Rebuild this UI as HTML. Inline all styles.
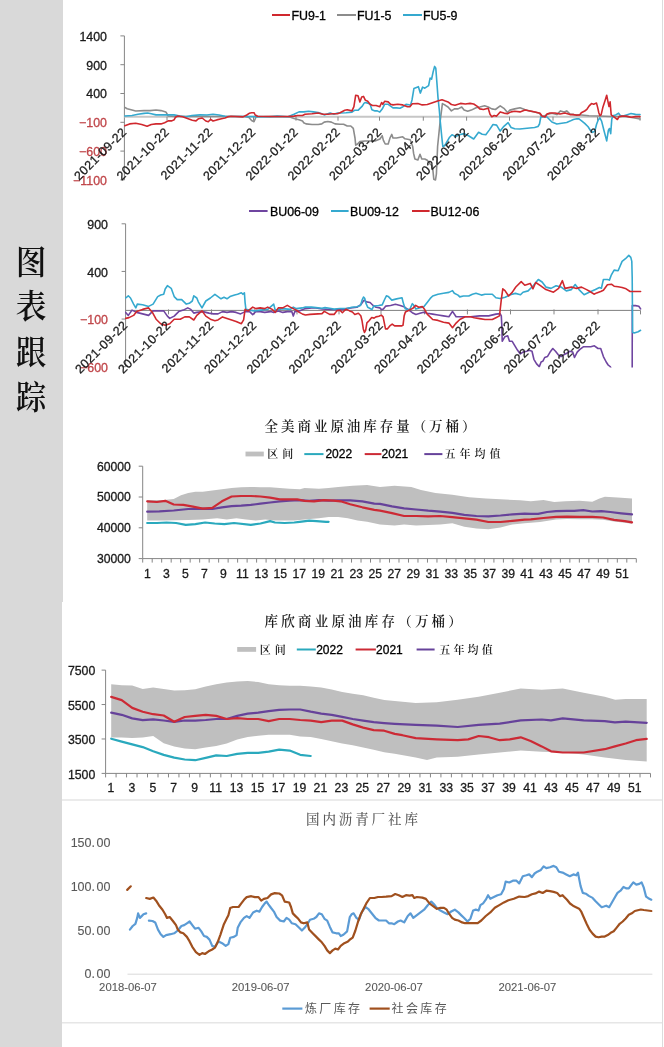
<!DOCTYPE html>
<html><head><meta charset="utf-8"><title>图表跟踪</title>
<style>html,body{margin:0;padding:0;background:#fff;}body{width:664px;height:1047px;overflow:hidden;}svg{display:block;}</style>
</head><body>
<svg width="664" height="1047" viewBox="0 0 664 1047">
<style>.lat{font-family:"Liberation Sans",Arial,sans-serif}.cjk{font-family:"Liberation Serif","Noto Serif CJK SC",serif}.cjks{font-family:"Liberation Sans","Noto Sans CJK SC",sans-serif}</style>
<rect x="0" y="0" width="664" height="1047" fill="#ffffff"/>
<rect x="0" y="0" width="63" height="602" fill="#d9d9d9"/>
<rect x="0" y="602" width="62" height="445" fill="#d9d9d9"/>
<line x1="662.5" y1="0" x2="662.5" y2="1047" stroke="#dcdcdc" stroke-width="1"/>
<line x1="62" y1="800" x2="662" y2="800" stroke="#e4e4e4" stroke-width="1.5"/>
<line x1="62" y1="1022.8" x2="662" y2="1022.8" stroke="#e6e6e6" stroke-width="1.6"/>
<text transform="translate(31 273.8) scale(1.02 1.1)" font-size="30" text-anchor="middle" fill="#111" class="cjk" font-weight="600">图</text>
<text transform="translate(31 317.9) scale(1.02 1.1)" font-size="30" text-anchor="middle" fill="#111" class="cjk" font-weight="600">表</text>
<text transform="translate(31 364) scale(1.02 1.1)" font-size="30" text-anchor="middle" fill="#111" class="cjk" font-weight="600">跟</text>
<text transform="translate(31 408.5) scale(1.02 1.1)" font-size="30" text-anchor="middle" fill="#111" class="cjk" font-weight="600">踪</text>
<line x1="124.4" y1="35.9" x2="124.4" y2="179.9" stroke="#868686" stroke-width="1"/>
<line x1="120.4" y1="35.9" x2="124.4" y2="35.9" stroke="#868686" stroke-width="1"/>
<text x="107" y="40.699999999999996" font-size="12.4" text-anchor="end" fill="#1a1a1a" stroke="#1a1a1a" stroke-width="0.3" class="lat" >1400</text>
<line x1="120.4" y1="64.7" x2="124.4" y2="64.7" stroke="#868686" stroke-width="1"/>
<text x="107" y="69.5" font-size="12.4" text-anchor="end" fill="#1a1a1a" stroke="#1a1a1a" stroke-width="0.3" class="lat" >900</text>
<line x1="120.4" y1="93.5" x2="124.4" y2="93.5" stroke="#868686" stroke-width="1"/>
<text x="107" y="98.3" font-size="12.4" text-anchor="end" fill="#1a1a1a" stroke="#1a1a1a" stroke-width="0.3" class="lat" >400</text>
<line x1="120.4" y1="122.30000000000001" x2="124.4" y2="122.30000000000001" stroke="#868686" stroke-width="1"/>
<text x="107" y="127.10000000000001" font-size="12.4" text-anchor="end" fill="#c0464a" stroke="#c0464a" stroke-width="0.3" class="lat" >−100</text>
<line x1="120.4" y1="151.1" x2="124.4" y2="151.1" stroke="#868686" stroke-width="1"/>
<text x="107" y="155.9" font-size="12.4" text-anchor="end" fill="#c0464a" stroke="#c0464a" stroke-width="0.3" class="lat" >−600</text>
<line x1="120.4" y1="179.9" x2="124.4" y2="179.9" stroke="#868686" stroke-width="1"/>
<text x="107" y="184.70000000000002" font-size="12.4" text-anchor="end" fill="#c0464a" stroke="#c0464a" stroke-width="0.3" class="lat" >−1100</text>
<line x1="124.4" y1="116.7" x2="640" y2="116.7" stroke="#c6c6c6" stroke-width="2"/>
<line x1="167" y1="116.7" x2="167" y2="120.7" stroke="#868686" stroke-width="1"/>
<line x1="210.5" y1="116.7" x2="210.5" y2="120.7" stroke="#868686" stroke-width="1"/>
<line x1="253.5" y1="116.7" x2="253.5" y2="120.7" stroke="#868686" stroke-width="1"/>
<line x1="296" y1="116.7" x2="296" y2="120.7" stroke="#868686" stroke-width="1"/>
<line x1="338" y1="116.7" x2="338" y2="120.7" stroke="#868686" stroke-width="1"/>
<line x1="379.5" y1="116.7" x2="379.5" y2="120.7" stroke="#868686" stroke-width="1"/>
<line x1="423.3" y1="116.7" x2="423.3" y2="120.7" stroke="#868686" stroke-width="1"/>
<line x1="466.6" y1="116.7" x2="466.6" y2="120.7" stroke="#868686" stroke-width="1"/>
<line x1="509.5" y1="116.7" x2="509.5" y2="120.7" stroke="#868686" stroke-width="1"/>
<line x1="553" y1="116.7" x2="553" y2="120.7" stroke="#868686" stroke-width="1"/>
<line x1="597.5" y1="116.7" x2="597.5" y2="120.7" stroke="#868686" stroke-width="1"/>
<line x1="640" y1="116.7" x2="640" y2="120.7" stroke="#868686" stroke-width="1"/>
<line x1="272" y1="15" x2="290" y2="15" stroke="#d0282e" stroke-width="2"/>
<text x="291.5" y="20.1" font-size="12.4" text-anchor="start" fill="#000" stroke="#000" stroke-width="0.3" class="lat" >FU9-1</text>
<line x1="337" y1="15" x2="356" y2="15" stroke="#8c8c8c" stroke-width="2"/>
<text x="357" y="20.1" font-size="12.4" text-anchor="start" fill="#000" stroke="#000" stroke-width="0.3" class="lat" >FU1-5</text>
<line x1="403" y1="15" x2="422" y2="15" stroke="#35a9cf" stroke-width="2"/>
<text x="423" y="20.1" font-size="12.4" text-anchor="start" fill="#000" stroke="#000" stroke-width="0.3" class="lat" >FU5-9</text>
<polyline points="124.8,107.4 127.2,108.8 132.0,110.0 135.7,111.0 144.0,110.6 150.0,110.6 156.0,110.0 161.0,110.6 165.8,111.9 167.0,113.7 168.0,116.0 175.0,116.5 200.0,116.5 245.0,116.5 249.0,117.5 251.6,120.5 254.0,121.7 256.0,117.0 270.0,116.5 288.0,116.8 290.5,117.3 294.0,118.5 299.0,119.7 302.5,120.9 303.7,122.7 306.0,123.9 312.0,124.5 318.2,124.5 321.8,123.9 324.2,122.1 327.8,121.5 331.4,122.1 335.0,123.9 340.0,124.2 343.6,124.2 347.2,126.0 350.8,126.0 353.3,128.4 355.0,138.0 355.7,145.2 357.5,144.0 359.9,141.6 365.0,141.0 370.0,141.0 375.0,141.0 380.0,139.0 382.2,135.6 383.4,140.4 385.2,144.0 388.2,144.0 390.0,138.0 391.8,134.4 393.0,138.0 396.6,138.0 402.7,136.8 405.0,138.8 410.2,139.7 412.7,146.5 413.6,153.4 414.9,159.0 417.9,159.9 420.0,154.3 421.8,159.0 424.8,159.0 427.3,160.3 429.9,163.7 432.5,166.3 433.8,179.2 435.5,180.0 436.4,174.0 437.6,146.5 440.2,120.8 442.4,103.6 445.4,105.3 448.0,107.0 451.4,110.9 454.8,108.7 458.1,108.9 461.7,107.0 464.1,110.1 467.7,111.3 471.3,110.1 476.1,107.7 479.8,107.0 484.6,105.8 488.2,107.0 491.8,108.9 495.4,109.5 500.2,105.8 503.9,108.3 507.5,112.5 509.9,110.1 514.7,108.9 520.0,107.7 524.7,109.6 529.6,110.9 534.6,112.0 539.5,113.3 542.0,117.0 547.0,114.6 551.9,113.3 556.8,114.6 560.5,110.9 564.2,112.0 566.7,110.9 570.0,114.0 574.0,114.6 581.5,115.0 589.0,115.8 598.8,116.0 611.0,116.5 625.0,116.5 633.3,117.8 640.0,119.0" fill="none" stroke="#8c8c8c" stroke-width="1.6" stroke-linejoin="round" stroke-linecap="round" />
<polyline points="124.8,116.0 132.0,115.5 138.0,114.3 144.0,113.4 147.7,113.0 151.3,113.7 156.0,114.9 162.0,114.9 168.0,114.9 174.0,114.9 180.0,116.0 186.0,116.7 192.0,115.5 200.0,114.9 207.0,115.0 213.0,114.2 219.0,115.0 225.0,116.3 240.0,116.5 270.0,116.7 277.2,116.1 288.0,116.7 294.0,114.3 299.0,111.9 303.7,111.9 308.6,111.3 313.4,111.9 318.2,112.5 321.8,113.7 324.2,114.9 327.8,113.7 330.2,113.0 333.9,114.3 337.5,113.0 340.0,113.0 346.0,112.7 352.0,112.1 354.5,110.3 358.0,110.3 360.5,107.9 362.3,106.1 364.1,103.1 365.3,102.5 367.7,103.1 370.1,104.3 371.9,109.7 375.0,110.9 377.3,110.9 379.8,112.1 382.2,109.1 384.6,104.3 388.2,104.3 390.6,106.1 393.0,107.9 396.6,107.9 400.0,108.2 403.0,106.7 406.0,104.4 409.0,104.8 410.5,105.2 412.0,100.0 413.9,88.6 418.4,86.7 420.3,93.1 422.6,87.1 424.8,88.2 428.6,85.6 430.1,78.1 431.6,79.2 433.1,72.0 434.6,66.4 435.8,68.3 436.9,82.6 438.0,97.6 439.2,109.0 440.2,120.8 441.9,138.0 442.8,146.5 444.5,145.7 446.0,143.5 449.6,137.2 452.0,134.8 455.7,136.6 459.3,134.8 464.1,133.6 468.9,136.0 473.7,139.0 478.6,132.3 482.2,134.2 485.8,134.8 489.4,129.9 493.0,124.5 496.6,125.1 500.2,131.1 503.9,126.3 508.1,122.7 511.1,127.5 514.7,128.7 519.8,129.0 524.7,128.5 529.6,128.0 534.6,127.5 538.0,126.5 539.5,124.0 540.8,117.0 543.0,116.5 547.0,117.0 551.9,122.0 556.8,124.0 561.7,123.2 566.7,122.5 570.0,121.1 573.4,119.5 576.8,118.7 579.0,118.9 581.3,120.6 584.7,123.4 588.1,126.8 590.3,130.2 592.6,132.4 594.8,131.3 596.5,124.5 598.2,120.0 599.9,117.8 601.6,121.1 603.9,130.2 606.7,140.9 608.4,130.2 609.5,128.5 610.7,133.6 611.8,118.9 613.5,115.5 615.7,114.9 618.6,113.2 620.3,115.5 623.1,116.1 626.5,114.9 631.0,113.5 635.5,114.4 640.0,114.6" fill="none" stroke="#35a9cf" stroke-width="1.6" stroke-linejoin="round" stroke-linecap="round" />
<polyline points="124.8,125.7 129.6,123.9 135.7,123.3 141.7,124.5 147.1,126.3 151.3,124.5 156.0,123.9 161.0,123.9 164.6,122.7 168.2,120.9 171.8,120.9 174.2,119.7 175.4,117.3 177.8,116.0 182.7,116.7 187.5,118.5 192.3,120.3 196.0,120.9 198.6,118.7 202.2,118.0 205.8,121.0 208.3,121.7 210.7,119.3 213.0,121.0 216.7,119.9 221.5,118.7 225.0,118.0 227.5,116.9 231.0,116.3 243.0,116.9 246.8,115.0 249.2,113.3 251.6,112.7 254.0,112.7 255.2,115.0 257.6,116.3 270.0,116.5 288.0,116.5 294.0,116.1 297.7,115.5 302.5,115.5 305.0,114.3 312.0,113.7 318.2,113.0 323.0,114.3 327.8,114.3 332.7,113.7 337.5,113.7 340.0,112.7 344.8,110.3 347.2,109.7 352.0,110.9 353.9,106.7 355.7,95.2 358.0,95.8 359.9,101.9 361.7,97.0 363.5,96.4 365.3,100.1 367.7,101.3 370.1,104.3 372.5,105.5 376.1,105.5 379.8,106.7 381.6,102.5 382.8,104.3 384.6,101.3 388.2,101.9 390.6,104.3 393.0,104.9 397.8,104.3 402.7,104.9 407.5,106.7 409.9,106.7 412.3,103.7 417.9,103.6 422.2,104.9 427.3,104.5 432.5,102.7 437.6,101.0 442.0,99.7 445.4,101.0 448.0,101.9 451.4,104.5 455.0,105.3 460.5,103.4 465.3,104.0 470.1,103.4 473.7,104.0 477.3,106.4 479.8,108.9 483.4,109.5 488.2,108.3 490.0,114.3 491.8,116.7 494.2,115.5 496.6,116.1 500.2,111.9 503.9,113.1 507.5,113.7 511.1,111.9 514.7,111.3 520.0,111.9 525.0,110.0 530.0,111.0 535.0,112.0 540.0,113.3 542.0,116.0 545.0,117.0 547.0,114.0 550.0,113.0 555.0,113.0 560.0,114.0 565.0,113.0 570.0,114.6 573.4,114.6 576.8,115.3 579.6,114.9 581.3,112.7 584.7,111.0 586.9,109.3 589.2,105.9 591.5,103.6 593.7,104.2 596.5,103.1 597.7,107.6 598.8,112.7 599.9,115.5 601.1,114.9 602.8,107.6 605.0,100.8 606.7,95.2 607.8,100.8 609.0,106.5 610.1,101.9 611.2,114.9 612.9,116.1 615.2,117.8 617.4,119.5 619.1,116.6 622.0,116.1 626.5,116.1 631.0,117.2 635.5,116.6 640.0,116.6" fill="none" stroke="#d0282e" stroke-width="1.6" stroke-linejoin="round" stroke-linecap="round" />
<text x="127.5" y="132.7" font-size="12.4" text-anchor="end" fill="#1a1a1a" stroke="#1a1a1a" stroke-width="0.3" class="lat" letter-spacing="0.5" transform="rotate(-45 127.5 132.7)">2021-09-22</text>
<text x="170" y="132.7" font-size="12.4" text-anchor="end" fill="#1a1a1a" stroke="#1a1a1a" stroke-width="0.3" class="lat" letter-spacing="0.5" transform="rotate(-45 170 132.7)">2021-10-22</text>
<text x="213.5" y="132.7" font-size="12.4" text-anchor="end" fill="#1a1a1a" stroke="#1a1a1a" stroke-width="0.3" class="lat" letter-spacing="0.5" transform="rotate(-45 213.5 132.7)">2021-11-22</text>
<text x="256.5" y="132.7" font-size="12.4" text-anchor="end" fill="#1a1a1a" stroke="#1a1a1a" stroke-width="0.3" class="lat" letter-spacing="0.5" transform="rotate(-45 256.5 132.7)">2021-12-22</text>
<text x="299" y="132.7" font-size="12.4" text-anchor="end" fill="#1a1a1a" stroke="#1a1a1a" stroke-width="0.3" class="lat" letter-spacing="0.5" transform="rotate(-45 299 132.7)">2022-01-22</text>
<text x="341" y="132.7" font-size="12.4" text-anchor="end" fill="#1a1a1a" stroke="#1a1a1a" stroke-width="0.3" class="lat" letter-spacing="0.5" transform="rotate(-45 341 132.7)">2022-02-22</text>
<text x="382.5" y="132.7" font-size="12.4" text-anchor="end" fill="#1a1a1a" stroke="#1a1a1a" stroke-width="0.3" class="lat" letter-spacing="0.5" transform="rotate(-45 382.5 132.7)">2022-03-22</text>
<text x="426.3" y="132.7" font-size="12.4" text-anchor="end" fill="#1a1a1a" stroke="#1a1a1a" stroke-width="0.3" class="lat" letter-spacing="0.5" transform="rotate(-45 426.3 132.7)">2022-04-22</text>
<text x="469.6" y="132.7" font-size="12.4" text-anchor="end" fill="#1a1a1a" stroke="#1a1a1a" stroke-width="0.3" class="lat" letter-spacing="0.5" transform="rotate(-45 469.6 132.7)">2022-05-22</text>
<text x="512.5" y="132.7" font-size="12.4" text-anchor="end" fill="#1a1a1a" stroke="#1a1a1a" stroke-width="0.3" class="lat" letter-spacing="0.5" transform="rotate(-45 512.5 132.7)">2022-06-22</text>
<text x="556" y="132.7" font-size="12.4" text-anchor="end" fill="#1a1a1a" stroke="#1a1a1a" stroke-width="0.3" class="lat" letter-spacing="0.5" transform="rotate(-45 556 132.7)">2022-07-22</text>
<text x="600.5" y="132.7" font-size="12.4" text-anchor="end" fill="#1a1a1a" stroke="#1a1a1a" stroke-width="0.3" class="lat" letter-spacing="0.5" transform="rotate(-45 600.5 132.7)">2022-08-22</text>
<line x1="125.6" y1="223.8" x2="125.6" y2="366.69000000000005" stroke="#868686" stroke-width="1"/>
<line x1="121.6" y1="223.8" x2="125.6" y2="223.8" stroke="#868686" stroke-width="1"/>
<text x="108" y="228.9" font-size="12.4" text-anchor="end" fill="#1a1a1a" stroke="#1a1a1a" stroke-width="0.3" class="lat" >900</text>
<line x1="121.6" y1="271.43" x2="125.6" y2="271.43" stroke="#868686" stroke-width="1"/>
<text x="108" y="276.53000000000003" font-size="12.4" text-anchor="end" fill="#1a1a1a" stroke="#1a1a1a" stroke-width="0.3" class="lat" >400</text>
<line x1="121.6" y1="319.06" x2="125.6" y2="319.06" stroke="#868686" stroke-width="1"/>
<text x="108" y="324.16" font-size="12.4" text-anchor="end" fill="#c0464a" stroke="#c0464a" stroke-width="0.3" class="lat" >−100</text>
<line x1="121.6" y1="366.69000000000005" x2="125.6" y2="366.69000000000005" stroke="#868686" stroke-width="1"/>
<text x="108" y="371.7900000000001" font-size="12.4" text-anchor="end" fill="#c0464a" stroke="#c0464a" stroke-width="0.3" class="lat" >−600</text>
<line x1="125.6" y1="310.4" x2="640.5" y2="310.4" stroke="#7f7f7f" stroke-width="1"/>
<line x1="168.5" y1="309.4" x2="168.5" y2="314.4" stroke="#868686" stroke-width="1"/>
<line x1="211.5" y1="309.4" x2="211.5" y2="314.4" stroke="#868686" stroke-width="1"/>
<line x1="254.5" y1="309.4" x2="254.5" y2="314.4" stroke="#868686" stroke-width="1"/>
<line x1="297" y1="309.4" x2="297" y2="314.4" stroke="#868686" stroke-width="1"/>
<line x1="339" y1="309.4" x2="339" y2="314.4" stroke="#868686" stroke-width="1"/>
<line x1="381" y1="309.4" x2="381" y2="314.4" stroke="#868686" stroke-width="1"/>
<line x1="424.5" y1="309.4" x2="424.5" y2="314.4" stroke="#868686" stroke-width="1"/>
<line x1="467.4" y1="309.4" x2="467.4" y2="314.4" stroke="#868686" stroke-width="1"/>
<line x1="510.5" y1="309.4" x2="510.5" y2="314.4" stroke="#868686" stroke-width="1"/>
<line x1="554" y1="309.4" x2="554" y2="314.4" stroke="#868686" stroke-width="1"/>
<line x1="598" y1="309.4" x2="598" y2="314.4" stroke="#868686" stroke-width="1"/>
<line x1="640.5" y1="310.4" x2="640.5" y2="314.4" stroke="#868686" stroke-width="1"/>
<line x1="249" y1="211" x2="267.6" y2="211" stroke="#6f45a0" stroke-width="2"/>
<text x="270" y="216.2" font-size="12.4" text-anchor="start" fill="#000" stroke="#000" stroke-width="0.3" class="lat" >BU06-09</text>
<line x1="331" y1="211" x2="348.6" y2="211" stroke="#35a9cf" stroke-width="2"/>
<text x="350" y="216.2" font-size="12.4" text-anchor="start" fill="#000" stroke="#000" stroke-width="0.3" class="lat" >BU09-12</text>
<line x1="412" y1="211" x2="429.6" y2="211" stroke="#d0282e" stroke-width="2"/>
<text x="430.5" y="216.2" font-size="12.4" text-anchor="start" fill="#000" stroke="#000" stroke-width="0.3" class="lat" >BU12-06</text>
<clipPath id="cp2"><rect x="125" y="220" width="520" height="147.5"/></clipPath>
<g clip-path="url(#cp2)">
<polyline points="125.7,312.4 128.3,315.4 132.0,310.1 136.6,312.4 142.6,313.9 148.6,315.4 153.1,310.9 159.2,310.9 163.7,310.9 167.4,316.1 169.7,318.4 174.2,316.1 178.7,311.6 183.3,310.1 187.8,307.9 190.8,309.4 193.8,313.1 196.8,312.4 202.8,311.6 208.9,313.1 213.4,313.9 218.0,313.9 222.5,311.6 227.0,312.4 231.6,311.6 236.1,312.4 240.6,313.9 245.1,311.6 249.6,311.6 252.7,314.6 255.7,311.6 260.2,311.6 264.7,312.4 270.7,311.6 273.7,312.4 278.3,310.9 282.8,312.4 287.3,311.6 291.8,311.6 293.3,316.1 294.8,311.6 299.3,310.9 305.4,308.6 311.4,307.9 316.0,308.0 322.0,309.0 330.0,309.5 340.0,309.7 344.8,309.1 350.8,307.9 356.9,307.3 361.1,304.3 364.1,300.1 366.5,301.9 370.1,302.5 373.1,305.5 376.1,307.3 379.8,307.9 381.6,309.7 383.4,309.1 385.8,306.1 390.6,305.5 395.4,304.3 400.2,305.5 403.9,306.7 407.5,309.1 412.3,312.7 415.9,314.5 420.0,313.3 423.6,312.3 427.2,313.2 432.7,314.1 438.0,315.0 443.5,315.9 448.9,316.8 452.5,311.4 456.1,316.8 463.4,316.8 470.6,316.8 479.6,315.9 488.7,315.9 495.9,314.1 500.1,313.6 501.3,315.9 501.9,326.8 502.2,341.3 504.9,336.7 507.7,335.8 509.5,341.3 512.2,341.3 514.9,345.8 517.6,350.3 520.3,353.9 523.0,352.1 526.6,351.2 529.3,350.3 532.0,351.2 533.9,359.3 536.6,363.9 539.3,366.6 541.1,362.0 542.9,361.1 544.7,357.5 547.4,356.6 550.1,352.1 552.8,348.5 555.5,351.2 558.3,354.8 561.0,356.6 563.7,354.8 567.3,353.0 570.0,351.2 572.7,352.1 574.5,357.5 577.2,352.1 579.9,349.4 583.6,346.7 587.2,346.7 590.8,346.7 594.4,345.8 598.0,348.5 600.7,348.5 603.4,356.6 606.2,362.0 608.0,364.8 610.1,366.5 612.0,370.0 620.0,380.0 630.0,380.0 632.2,370.0 632.3,305.6 635.5,305.6 638.8,306.2 640.6,308.9" fill="none" stroke="#6f45a0" stroke-width="1.6" stroke-linejoin="round" stroke-linecap="round" />
<polyline points="125.7,298.0 128.3,295.8 130.5,298.0 133.6,304.1 135.8,307.9 137.3,304.1 142.6,304.8 148.6,306.4 153.1,304.1 157.7,296.6 160.7,295.0 163.7,294.3 165.2,289.0 167.4,285.7 171.2,288.3 174.2,296.6 177.2,299.6 181.7,299.6 186.3,304.1 189.3,303.3 192.3,301.0 193.8,295.8 196.8,298.0 198.3,301.8 202.0,307.9 205.8,301.0 210.4,298.0 214.9,294.3 218.0,296.6 221.0,298.8 224.0,297.3 227.0,298.8 230.0,296.6 234.6,295.0 237.6,294.3 241.4,292.8 242.9,294.3 244.4,292.8 245.1,302.6 245.9,309.4 249.6,310.1 254.2,310.9 260.2,310.1 267.7,309.4 273.7,304.1 275.2,310.1 282.8,308.6 290.3,309.4 293.3,307.1 296.3,308.6 302.3,307.9 305.4,307.1 311.4,307.1 316.0,307.6 322.0,308.3 325.0,307.6 329.6,308.3 334.1,309.1 340.0,308.5 346.0,308.5 352.0,307.3 356.9,306.7 360.5,305.5 362.3,299.5 363.5,297.0 364.7,298.3 365.9,303.1 367.7,307.3 370.1,308.5 371.9,309.7 373.7,306.1 378.6,305.5 382.2,304.9 384.6,299.5 386.4,295.8 388.2,296.4 391.8,300.1 396.6,298.9 402.0,297.7 403.3,303.1 405.1,308.5 407.5,309.7 409.9,309.1 412.3,303.7 413.5,304.9 415.9,309.1 420.0,307.8 423.6,306.9 427.2,302.4 430.8,297.8 432.7,296.0 438.0,294.2 443.5,293.3 448.9,292.4 452.5,290.6 454.3,293.3 458.0,295.1 459.8,296.9 463.4,296.0 468.8,296.0 472.4,294.2 476.0,293.3 481.4,295.1 485.0,294.2 492.3,294.2 495.9,297.8 500.1,298.5 505.2,297.3 510.3,294.7 515.4,293.4 520.5,294.7 523.0,292.2 528.1,290.9 533.2,285.8 538.3,279.5 542.1,282.0 545.9,287.1 551.0,288.4 556.1,285.8 561.2,287.1 566.3,290.9 571.4,289.6 575.2,284.5 579.0,289.6 584.1,294.7 589.2,292.2 595.4,289.5 599.4,287.5 601.4,288.2 603.4,279.5 607.4,279.5 609.4,280.1 611.4,274.8 614.1,270.1 618.1,270.8 622.1,261.4 625.5,258.7 628.8,255.4 630.8,257.4 631.8,261.4 632.2,277.5 632.6,332.3 634.2,333.0 638.2,331.7 640.6,330.3" fill="none" stroke="#35a9cf" stroke-width="1.6" stroke-linejoin="round" stroke-linecap="round" />
<polyline points="125.7,318.4 129.0,317.6 133.6,315.4 136.6,311.6 142.6,309.4 148.6,307.9 152.4,312.4 156.1,319.2 160.7,323.7 165.2,325.2 169.7,323.7 174.2,319.2 180.2,319.2 184.8,316.9 189.3,316.9 193.8,320.0 196.8,315.4 202.0,310.9 205.8,316.1 210.4,319.2 214.9,320.7 218.0,319.9 222.5,316.9 227.0,318.4 231.6,319.9 236.1,321.4 241.4,323.7 243.6,319.9 245.1,309.4 248.1,310.9 252.7,307.1 255.7,308.6 260.2,307.9 264.7,308.6 267.7,307.1 272.2,309.4 275.2,312.4 278.3,307.9 282.8,307.9 287.3,305.4 290.3,307.1 293.3,308.6 296.3,310.1 299.3,312.4 302.3,313.9 305.4,315.0 310.0,314.4 322.0,313.6 324.3,311.4 329.6,314.4 334.1,314.4 337.1,310.6 340.0,310.3 342.4,312.7 344.8,310.3 346.1,309.1 349.6,310.9 352.4,312.0 354.8,314.5 358.4,313.3 360.8,315.7 362.0,320.5 363.3,328.9 364.5,332.5 365.7,330.1 366.9,322.9 369.3,320.5 371.7,317.5 374.1,318.1 375.9,316.9 378.9,316.3 381.3,315.1 383.1,316.9 384.3,322.9 385.5,328.9 387.3,328.9 389.8,325.9 392.2,324.1 394.6,325.9 398.2,325.9 401.8,325.9 403.0,325.3 404.2,315.7 405.4,312.0 409.0,310.2 412.7,308.4 415.7,305.4 418.7,307.2 422.3,306.6 424.7,309.6 427.2,314.1 432.7,319.5 438.0,320.4 443.5,322.2 448.9,323.1 452.5,327.7 456.1,323.1 459.8,319.5 465.2,316.8 470.6,316.8 474.2,317.7 479.6,318.6 485.0,319.5 492.3,319.5 495.9,317.7 499.5,315.9 501.3,299.6 502.8,288.8 505.0,290.6 508.6,296.0 512.2,292.4 515.8,287.0 521.2,281.6 524.8,285.2 530.2,283.4 533.0,288.8 535.7,282.5 540.8,285.8 545.9,289.6 553.5,292.2 558.6,288.4 562.4,280.7 565.0,288.4 571.4,287.1 576.4,288.4 581.5,287.1 586.6,289.6 590.0,291.5 594.0,294.2 596.7,292.9 600.7,291.5 603.4,290.2 607.4,284.8 611.4,284.2 614.1,286.2 618.1,286.8 622.1,287.5 626.1,288.8 630.1,291.5 634.2,291.5 640.6,291.5" fill="none" stroke="#d0282e" stroke-width="1.6" stroke-linejoin="round" stroke-linecap="round" />
</g>
<text x="128.5" y="325.9" font-size="12.4" text-anchor="end" fill="#1a1a1a" stroke="#1a1a1a" stroke-width="0.3" class="lat" letter-spacing="0.5" transform="rotate(-45 128.5 325.9)">2021-09-22</text>
<text x="171.5" y="325.9" font-size="12.4" text-anchor="end" fill="#1a1a1a" stroke="#1a1a1a" stroke-width="0.3" class="lat" letter-spacing="0.5" transform="rotate(-45 171.5 325.9)">2021-10-22</text>
<text x="214.5" y="325.9" font-size="12.4" text-anchor="end" fill="#1a1a1a" stroke="#1a1a1a" stroke-width="0.3" class="lat" letter-spacing="0.5" transform="rotate(-45 214.5 325.9)">2021-11-22</text>
<text x="257.5" y="325.9" font-size="12.4" text-anchor="end" fill="#1a1a1a" stroke="#1a1a1a" stroke-width="0.3" class="lat" letter-spacing="0.5" transform="rotate(-45 257.5 325.9)">2021-12-22</text>
<text x="300" y="325.9" font-size="12.4" text-anchor="end" fill="#1a1a1a" stroke="#1a1a1a" stroke-width="0.3" class="lat" letter-spacing="0.5" transform="rotate(-45 300 325.9)">2022-01-22</text>
<text x="342" y="325.9" font-size="12.4" text-anchor="end" fill="#1a1a1a" stroke="#1a1a1a" stroke-width="0.3" class="lat" letter-spacing="0.5" transform="rotate(-45 342 325.9)">2022-02-22</text>
<text x="384" y="325.9" font-size="12.4" text-anchor="end" fill="#1a1a1a" stroke="#1a1a1a" stroke-width="0.3" class="lat" letter-spacing="0.5" transform="rotate(-45 384 325.9)">2022-03-22</text>
<text x="427.5" y="325.9" font-size="12.4" text-anchor="end" fill="#1a1a1a" stroke="#1a1a1a" stroke-width="0.3" class="lat" letter-spacing="0.5" transform="rotate(-45 427.5 325.9)">2022-04-22</text>
<text x="470.4" y="325.9" font-size="12.4" text-anchor="end" fill="#1a1a1a" stroke="#1a1a1a" stroke-width="0.3" class="lat" letter-spacing="0.5" transform="rotate(-45 470.4 325.9)">2022-05-22</text>
<text x="513.5" y="325.9" font-size="12.4" text-anchor="end" fill="#1a1a1a" stroke="#1a1a1a" stroke-width="0.3" class="lat" letter-spacing="0.5" transform="rotate(-45 513.5 325.9)">2022-06-22</text>
<text x="557" y="325.9" font-size="12.4" text-anchor="end" fill="#1a1a1a" stroke="#1a1a1a" stroke-width="0.3" class="lat" letter-spacing="0.5" transform="rotate(-45 557 325.9)">2022-07-22</text>
<text x="601" y="325.9" font-size="12.4" text-anchor="end" fill="#1a1a1a" stroke="#1a1a1a" stroke-width="0.3" class="lat" letter-spacing="0.5" transform="rotate(-45 601 325.9)">2022-08-22</text>
<text x="264.6" y="430.5" font-size="13.5" fill="#1a1a1a" class="cjk" font-weight="600" letter-spacing="2.95">全美商业原油库存量（万桶）</text>
<rect x="245.5" y="451.6" width="18.3" height="4.8" fill="#bfbfbf"/>
<text x="267.2" y="458" font-size="11" class="cjk" font-weight="600" fill="#1a1a1a" letter-spacing="4">区间</text>
<line x1="304.3" y1="454.1" x2="323.5" y2="454.1" stroke="#2aa9bd" stroke-width="2"/>
<text x="325.4" y="458.2" font-size="12" text-anchor="start" fill="#000" stroke="#000" stroke-width="0.3" class="lat" >2022</text>
<line x1="364.7" y1="454.1" x2="381.4" y2="454.1" stroke="#cc2a35" stroke-width="2"/>
<text x="381.6" y="458.2" font-size="12" text-anchor="start" fill="#000" stroke="#000" stroke-width="0.3" class="lat" >2021</text>
<line x1="424.3" y1="454.1" x2="442.4" y2="454.1" stroke="#66429a" stroke-width="2"/>
<text x="444.6" y="458" font-size="11" class="cjk" font-weight="600" fill="#1a1a1a" letter-spacing="4">五年均值</text>
<line x1="142.7" y1="466.20000000000005" x2="142.7" y2="558.6" stroke="#868686" stroke-width="1"/>
<line x1="138.7" y1="466.20000000000005" x2="142.7" y2="466.20000000000005" stroke="#868686" stroke-width="1"/>
<text x="130.8" y="470.50000000000006" font-size="12.2" text-anchor="end" fill="#1a1a1a" stroke="#1a1a1a" stroke-width="0.3" class="lat" >60000</text>
<line x1="138.7" y1="497.0" x2="142.7" y2="497.0" stroke="#868686" stroke-width="1"/>
<text x="130.8" y="501.3" font-size="12.2" text-anchor="end" fill="#1a1a1a" stroke="#1a1a1a" stroke-width="0.3" class="lat" >50000</text>
<line x1="138.7" y1="527.8000000000001" x2="142.7" y2="527.8000000000001" stroke="#868686" stroke-width="1"/>
<text x="130.8" y="532.1" font-size="12.2" text-anchor="end" fill="#1a1a1a" stroke="#1a1a1a" stroke-width="0.3" class="lat" >40000</text>
<line x1="138.7" y1="558.6" x2="142.7" y2="558.6" stroke="#868686" stroke-width="1"/>
<text x="130.8" y="562.9" font-size="12.2" text-anchor="end" fill="#1a1a1a" stroke="#1a1a1a" stroke-width="0.3" class="lat" >30000</text>
<line x1="142.7" y1="558.6" x2="636.3" y2="558.6" stroke="#868686" stroke-width="1"/>
<line x1="142.7" y1="558.6" x2="142.7" y2="562.6" stroke="#868686" stroke-width="1"/>
<line x1="152.19230769230768" y1="558.6" x2="152.19230769230768" y2="562.6" stroke="#868686" stroke-width="1"/>
<line x1="161.68461538461537" y1="558.6" x2="161.68461538461537" y2="562.6" stroke="#868686" stroke-width="1"/>
<line x1="171.17692307692306" y1="558.6" x2="171.17692307692306" y2="562.6" stroke="#868686" stroke-width="1"/>
<line x1="180.66923076923075" y1="558.6" x2="180.66923076923075" y2="562.6" stroke="#868686" stroke-width="1"/>
<line x1="190.16153846153844" y1="558.6" x2="190.16153846153844" y2="562.6" stroke="#868686" stroke-width="1"/>
<line x1="199.65384615384613" y1="558.6" x2="199.65384615384613" y2="562.6" stroke="#868686" stroke-width="1"/>
<line x1="209.14615384615382" y1="558.6" x2="209.14615384615382" y2="562.6" stroke="#868686" stroke-width="1"/>
<line x1="218.6384615384615" y1="558.6" x2="218.6384615384615" y2="562.6" stroke="#868686" stroke-width="1"/>
<line x1="228.1307692307692" y1="558.6" x2="228.1307692307692" y2="562.6" stroke="#868686" stroke-width="1"/>
<line x1="237.6230769230769" y1="558.6" x2="237.6230769230769" y2="562.6" stroke="#868686" stroke-width="1"/>
<line x1="247.11538461538458" y1="558.6" x2="247.11538461538458" y2="562.6" stroke="#868686" stroke-width="1"/>
<line x1="256.60769230769233" y1="558.6" x2="256.60769230769233" y2="562.6" stroke="#868686" stroke-width="1"/>
<line x1="266.1" y1="558.6" x2="266.1" y2="562.6" stroke="#868686" stroke-width="1"/>
<line x1="275.5923076923077" y1="558.6" x2="275.5923076923077" y2="562.6" stroke="#868686" stroke-width="1"/>
<line x1="285.0846153846154" y1="558.6" x2="285.0846153846154" y2="562.6" stroke="#868686" stroke-width="1"/>
<line x1="294.5769230769231" y1="558.6" x2="294.5769230769231" y2="562.6" stroke="#868686" stroke-width="1"/>
<line x1="304.0692307692308" y1="558.6" x2="304.0692307692308" y2="562.6" stroke="#868686" stroke-width="1"/>
<line x1="313.5615384615385" y1="558.6" x2="313.5615384615385" y2="562.6" stroke="#868686" stroke-width="1"/>
<line x1="323.05384615384617" y1="558.6" x2="323.05384615384617" y2="562.6" stroke="#868686" stroke-width="1"/>
<line x1="332.54615384615386" y1="558.6" x2="332.54615384615386" y2="562.6" stroke="#868686" stroke-width="1"/>
<line x1="342.03846153846155" y1="558.6" x2="342.03846153846155" y2="562.6" stroke="#868686" stroke-width="1"/>
<line x1="351.53076923076924" y1="558.6" x2="351.53076923076924" y2="562.6" stroke="#868686" stroke-width="1"/>
<line x1="361.0230769230769" y1="558.6" x2="361.0230769230769" y2="562.6" stroke="#868686" stroke-width="1"/>
<line x1="370.5153846153846" y1="558.6" x2="370.5153846153846" y2="562.6" stroke="#868686" stroke-width="1"/>
<line x1="380.0076923076923" y1="558.6" x2="380.0076923076923" y2="562.6" stroke="#868686" stroke-width="1"/>
<line x1="389.5" y1="558.6" x2="389.5" y2="562.6" stroke="#868686" stroke-width="1"/>
<line x1="398.9923076923077" y1="558.6" x2="398.9923076923077" y2="562.6" stroke="#868686" stroke-width="1"/>
<line x1="408.4846153846154" y1="558.6" x2="408.4846153846154" y2="562.6" stroke="#868686" stroke-width="1"/>
<line x1="417.9769230769231" y1="558.6" x2="417.9769230769231" y2="562.6" stroke="#868686" stroke-width="1"/>
<line x1="427.46923076923076" y1="558.6" x2="427.46923076923076" y2="562.6" stroke="#868686" stroke-width="1"/>
<line x1="436.96153846153845" y1="558.6" x2="436.96153846153845" y2="562.6" stroke="#868686" stroke-width="1"/>
<line x1="446.45384615384614" y1="558.6" x2="446.45384615384614" y2="562.6" stroke="#868686" stroke-width="1"/>
<line x1="455.94615384615383" y1="558.6" x2="455.94615384615383" y2="562.6" stroke="#868686" stroke-width="1"/>
<line x1="465.4384615384615" y1="558.6" x2="465.4384615384615" y2="562.6" stroke="#868686" stroke-width="1"/>
<line x1="474.9307692307692" y1="558.6" x2="474.9307692307692" y2="562.6" stroke="#868686" stroke-width="1"/>
<line x1="484.4230769230769" y1="558.6" x2="484.4230769230769" y2="562.6" stroke="#868686" stroke-width="1"/>
<line x1="493.9153846153846" y1="558.6" x2="493.9153846153846" y2="562.6" stroke="#868686" stroke-width="1"/>
<line x1="503.4076923076923" y1="558.6" x2="503.4076923076923" y2="562.6" stroke="#868686" stroke-width="1"/>
<line x1="512.9" y1="558.6" x2="512.9" y2="562.6" stroke="#868686" stroke-width="1"/>
<line x1="522.3923076923077" y1="558.6" x2="522.3923076923077" y2="562.6" stroke="#868686" stroke-width="1"/>
<line x1="531.8846153846154" y1="558.6" x2="531.8846153846154" y2="562.6" stroke="#868686" stroke-width="1"/>
<line x1="541.376923076923" y1="558.6" x2="541.376923076923" y2="562.6" stroke="#868686" stroke-width="1"/>
<line x1="550.8692307692307" y1="558.6" x2="550.8692307692307" y2="562.6" stroke="#868686" stroke-width="1"/>
<line x1="560.3615384615384" y1="558.6" x2="560.3615384615384" y2="562.6" stroke="#868686" stroke-width="1"/>
<line x1="569.8538461538461" y1="558.6" x2="569.8538461538461" y2="562.6" stroke="#868686" stroke-width="1"/>
<line x1="579.3461538461538" y1="558.6" x2="579.3461538461538" y2="562.6" stroke="#868686" stroke-width="1"/>
<line x1="588.8384615384615" y1="558.6" x2="588.8384615384615" y2="562.6" stroke="#868686" stroke-width="1"/>
<line x1="598.3307692307692" y1="558.6" x2="598.3307692307692" y2="562.6" stroke="#868686" stroke-width="1"/>
<line x1="607.823076923077" y1="558.6" x2="607.823076923077" y2="562.6" stroke="#868686" stroke-width="1"/>
<line x1="617.3153846153846" y1="558.6" x2="617.3153846153846" y2="562.6" stroke="#868686" stroke-width="1"/>
<line x1="626.8076923076924" y1="558.6" x2="626.8076923076924" y2="562.6" stroke="#868686" stroke-width="1"/>
<line x1="636.3" y1="558.6" x2="636.3" y2="562.6" stroke="#868686" stroke-width="1"/>
<text x="147.4" y="578.3" font-size="12.2" text-anchor="middle" fill="#1a1a1a" stroke="#1a1a1a" stroke-width="0.3" class="lat" >1</text>
<text x="166.4" y="578.3" font-size="12.2" text-anchor="middle" fill="#1a1a1a" stroke="#1a1a1a" stroke-width="0.3" class="lat" >3</text>
<text x="185.4" y="578.3" font-size="12.2" text-anchor="middle" fill="#1a1a1a" stroke="#1a1a1a" stroke-width="0.3" class="lat" >5</text>
<text x="204.4" y="578.3" font-size="12.2" text-anchor="middle" fill="#1a1a1a" stroke="#1a1a1a" stroke-width="0.3" class="lat" >7</text>
<text x="223.4" y="578.3" font-size="12.2" text-anchor="middle" fill="#1a1a1a" stroke="#1a1a1a" stroke-width="0.3" class="lat" >9</text>
<text x="242.4" y="578.3" font-size="12.2" text-anchor="middle" fill="#1a1a1a" stroke="#1a1a1a" stroke-width="0.3" class="lat" >11</text>
<text x="261.4" y="578.3" font-size="12.2" text-anchor="middle" fill="#1a1a1a" stroke="#1a1a1a" stroke-width="0.3" class="lat" >13</text>
<text x="280.3" y="578.3" font-size="12.2" text-anchor="middle" fill="#1a1a1a" stroke="#1a1a1a" stroke-width="0.3" class="lat" >15</text>
<text x="299.3" y="578.3" font-size="12.2" text-anchor="middle" fill="#1a1a1a" stroke="#1a1a1a" stroke-width="0.3" class="lat" >17</text>
<text x="318.3" y="578.3" font-size="12.2" text-anchor="middle" fill="#1a1a1a" stroke="#1a1a1a" stroke-width="0.3" class="lat" >19</text>
<text x="337.3" y="578.3" font-size="12.2" text-anchor="middle" fill="#1a1a1a" stroke="#1a1a1a" stroke-width="0.3" class="lat" >21</text>
<text x="356.3" y="578.3" font-size="12.2" text-anchor="middle" fill="#1a1a1a" stroke="#1a1a1a" stroke-width="0.3" class="lat" >23</text>
<text x="375.3" y="578.3" font-size="12.2" text-anchor="middle" fill="#1a1a1a" stroke="#1a1a1a" stroke-width="0.3" class="lat" >25</text>
<text x="394.2" y="578.3" font-size="12.2" text-anchor="middle" fill="#1a1a1a" stroke="#1a1a1a" stroke-width="0.3" class="lat" >27</text>
<text x="413.2" y="578.3" font-size="12.2" text-anchor="middle" fill="#1a1a1a" stroke="#1a1a1a" stroke-width="0.3" class="lat" >29</text>
<text x="432.2" y="578.3" font-size="12.2" text-anchor="middle" fill="#1a1a1a" stroke="#1a1a1a" stroke-width="0.3" class="lat" >31</text>
<text x="451.2" y="578.3" font-size="12.2" text-anchor="middle" fill="#1a1a1a" stroke="#1a1a1a" stroke-width="0.3" class="lat" >33</text>
<text x="470.2" y="578.3" font-size="12.2" text-anchor="middle" fill="#1a1a1a" stroke="#1a1a1a" stroke-width="0.3" class="lat" >35</text>
<text x="489.2" y="578.3" font-size="12.2" text-anchor="middle" fill="#1a1a1a" stroke="#1a1a1a" stroke-width="0.3" class="lat" >37</text>
<text x="508.2" y="578.3" font-size="12.2" text-anchor="middle" fill="#1a1a1a" stroke="#1a1a1a" stroke-width="0.3" class="lat" >39</text>
<text x="527.1" y="578.3" font-size="12.2" text-anchor="middle" fill="#1a1a1a" stroke="#1a1a1a" stroke-width="0.3" class="lat" >41</text>
<text x="546.1" y="578.3" font-size="12.2" text-anchor="middle" fill="#1a1a1a" stroke="#1a1a1a" stroke-width="0.3" class="lat" >43</text>
<text x="565.1" y="578.3" font-size="12.2" text-anchor="middle" fill="#1a1a1a" stroke="#1a1a1a" stroke-width="0.3" class="lat" >45</text>
<text x="584.1" y="578.3" font-size="12.2" text-anchor="middle" fill="#1a1a1a" stroke="#1a1a1a" stroke-width="0.3" class="lat" >47</text>
<text x="603.1" y="578.3" font-size="12.2" text-anchor="middle" fill="#1a1a1a" stroke="#1a1a1a" stroke-width="0.3" class="lat" >49</text>
<text x="622.1" y="578.3" font-size="12.2" text-anchor="middle" fill="#1a1a1a" stroke="#1a1a1a" stroke-width="0.3" class="lat" >51</text>
<polygon points="147.2,500.1 164.0,500.1 173.7,498.9 181.0,495.3 188.2,492.9 195.4,491.7 202.7,491.7 212.3,490.5 221.9,489.3 231.6,488.1 241.2,487.3 250.8,486.9 260.5,487.3 270.1,487.3 279.8,488.1 289.4,488.8 300.0,489.3 304.5,488.1 318.9,488.8 328.6,488.1 338.2,486.9 352.7,485.7 367.1,484.9 380.0,487.0 394.5,485.8 411.3,487.0 421.0,490.0 435.4,493.1 452.3,494.8 469.2,497.2 486.0,498.6 505.3,499.6 520.0,500.3 530.8,501.2 543.5,499.9 554.3,502.1 565.2,501.2 579.6,500.7 592.3,501.7 599.5,498.5 604.9,496.7 617.6,497.6 632.0,498.5 632.0,523.8 624.8,522.8 614.0,521.5 603.0,519.8 592.0,519.3 580.0,519.2 567.0,519.0 556.0,519.5 540.0,522.0 524.6,523.2 512.5,524.4 500.5,527.5 488.4,529.2 476.4,528.5 464.3,526.8 452.3,523.2 440.2,524.4 428.2,525.1 416.1,525.6 404.1,524.4 394.5,525.6 380.0,524.4 367.1,521.8 357.5,520.6 347.8,518.2 338.2,517.0 328.6,517.0 318.9,518.2 304.5,519.4 294.2,520.6 284.6,520.6 274.9,520.6 265.3,519.4 255.7,520.6 246.0,519.4 236.4,518.2 226.7,519.4 217.1,518.2 202.7,519.4 188.2,520.1 164.0,520.6 147.2,520.6" fill="#bfbfbf" stroke="none"/>
<polyline points="147.2,523.0 156.9,523.0 166.5,522.5 176.1,523.0 185.8,524.9 195.4,524.2 205.1,522.5 214.7,523.5 224.3,524.2 234.0,523.0 250.8,524.9 260.5,523.5 270.1,521.1 275.0,522.5 284.6,523.0 294.2,522.5 299.6,521.8 309.3,520.6 316.5,521.1 326.1,521.8 328.6,521.8" fill="none" stroke="#2aa9bd" stroke-width="2.2" stroke-linejoin="round" stroke-linecap="round" />
<polyline points="147.2,511.7 159.3,511.4 173.7,510.5 188.2,509.0 202.7,508.6 212.3,509.0 221.9,507.3 231.6,506.1 241.2,505.7 250.8,504.9 260.5,503.7 270.1,502.5 279.8,501.3 289.4,500.6 299.6,500.1 309.3,500.8 318.9,500.1 328.6,500.6 338.2,500.4 350.2,500.4 362.3,501.3 374.3,503.7 380.0,503.9 392.0,506.3 404.1,508.3 416.1,509.5 428.2,510.7 440.2,511.6 452.3,512.8 464.3,514.8 476.4,516.0 488.4,516.4 500.5,515.5 512.5,514.3 524.6,513.6 530.8,513.9 538.1,513.9 547.1,512.0 556.1,511.1 567.0,510.8 574.2,510.8 583.3,510.2 592.3,511.5 601.3,511.1 610.4,512.0 621.2,513.3 632.0,514.4" fill="none" stroke="#66429a" stroke-width="2.2" stroke-linejoin="round" stroke-linecap="round" />
<polyline points="147.2,501.3 156.9,502.0 165.3,500.8 173.7,504.5 183.4,504.9 193.0,506.6 202.7,508.6 212.3,507.8 221.9,501.3 231.6,496.5 241.2,496.0 250.8,496.0 260.5,496.5 270.1,497.7 279.8,499.4 289.4,499.4 297.2,499.4 304.5,500.8 314.1,501.3 323.7,500.1 333.4,500.6 340.6,501.3 350.2,504.2 362.3,507.3 374.3,509.8 380.0,510.7 392.0,513.1 404.1,516.0 416.1,516.0 428.2,516.4 440.2,516.0 452.3,517.2 464.3,518.4 476.4,519.6 488.4,522.0 500.5,522.0 512.5,520.8 524.6,519.6 530.8,519.3 543.5,518.0 556.1,516.9 567.0,516.6 579.6,516.9 592.3,516.9 603.1,517.5 614.0,519.8 624.8,521.1 632.0,522.4" fill="none" stroke="#cc2a35" stroke-width="2.2" stroke-linejoin="round" stroke-linecap="round" />
<text x="264.6" y="625.6" font-size="13.5" fill="#1a1a1a" class="cjk" font-weight="600" letter-spacing="3.2">库欣商业原油库存（万桶）</text>
<rect x="237.2" y="647" width="18.9" height="4.8" fill="#bfbfbf"/>
<text x="259.8" y="653.5" font-size="11" class="cjk" font-weight="600" fill="#1a1a1a" letter-spacing="4">区间</text>
<line x1="296.8" y1="649.5" x2="315.8" y2="649.5" stroke="#2aa9bd" stroke-width="2"/>
<text x="316.2" y="653.7" font-size="12" text-anchor="start" fill="#000" stroke="#000" stroke-width="0.3" class="lat" >2022</text>
<line x1="355.6" y1="649.5" x2="375.9" y2="649.5" stroke="#cc2a35" stroke-width="2"/>
<text x="376.1" y="653.7" font-size="12" text-anchor="start" fill="#000" stroke="#000" stroke-width="0.3" class="lat" >2021</text>
<line x1="416.6" y1="649.5" x2="434.6" y2="649.5" stroke="#66429a" stroke-width="2"/>
<text x="439.2" y="653.5" font-size="11" class="cjk" font-weight="600" fill="#1a1a1a" letter-spacing="3.2">五年均值</text>
<line x1="105.6" y1="670.11" x2="105.6" y2="773.4" stroke="#868686" stroke-width="1"/>
<line x1="101.6" y1="670.11" x2="105.6" y2="670.11" stroke="#868686" stroke-width="1"/>
<text x="95.3" y="675.3100000000001" font-size="12.3" text-anchor="end" fill="#1a1a1a" stroke="#1a1a1a" stroke-width="0.3" class="lat" >7500</text>
<line x1="101.6" y1="704.54" x2="105.6" y2="704.54" stroke="#868686" stroke-width="1"/>
<text x="95.3" y="709.74" font-size="12.3" text-anchor="end" fill="#1a1a1a" stroke="#1a1a1a" stroke-width="0.3" class="lat" >5500</text>
<line x1="101.6" y1="738.97" x2="105.6" y2="738.97" stroke="#868686" stroke-width="1"/>
<text x="95.3" y="744.1700000000001" font-size="12.3" text-anchor="end" fill="#1a1a1a" stroke="#1a1a1a" stroke-width="0.3" class="lat" >3500</text>
<line x1="101.6" y1="773.4" x2="105.6" y2="773.4" stroke="#868686" stroke-width="1"/>
<text x="95.3" y="778.6" font-size="12.3" text-anchor="end" fill="#1a1a1a" stroke="#1a1a1a" stroke-width="0.3" class="lat" >1500</text>
<line x1="105.6" y1="773.4" x2="650.5" y2="773.4" stroke="#868686" stroke-width="1"/>
<line x1="105.6" y1="773.4" x2="105.6" y2="777.4" stroke="#868686" stroke-width="1"/>
<line x1="116.07884615384614" y1="773.4" x2="116.07884615384614" y2="777.4" stroke="#868686" stroke-width="1"/>
<line x1="126.55769230769229" y1="773.4" x2="126.55769230769229" y2="777.4" stroke="#868686" stroke-width="1"/>
<line x1="137.03653846153844" y1="773.4" x2="137.03653846153844" y2="777.4" stroke="#868686" stroke-width="1"/>
<line x1="147.51538461538462" y1="773.4" x2="147.51538461538462" y2="777.4" stroke="#868686" stroke-width="1"/>
<line x1="157.99423076923074" y1="773.4" x2="157.99423076923074" y2="777.4" stroke="#868686" stroke-width="1"/>
<line x1="168.47307692307692" y1="773.4" x2="168.47307692307692" y2="777.4" stroke="#868686" stroke-width="1"/>
<line x1="178.95192307692307" y1="773.4" x2="178.95192307692307" y2="777.4" stroke="#868686" stroke-width="1"/>
<line x1="189.43076923076922" y1="773.4" x2="189.43076923076922" y2="777.4" stroke="#868686" stroke-width="1"/>
<line x1="199.90961538461536" y1="773.4" x2="199.90961538461536" y2="777.4" stroke="#868686" stroke-width="1"/>
<line x1="210.3884615384615" y1="773.4" x2="210.3884615384615" y2="777.4" stroke="#868686" stroke-width="1"/>
<line x1="220.8673076923077" y1="773.4" x2="220.8673076923077" y2="777.4" stroke="#868686" stroke-width="1"/>
<line x1="231.3461538461538" y1="773.4" x2="231.3461538461538" y2="777.4" stroke="#868686" stroke-width="1"/>
<line x1="241.825" y1="773.4" x2="241.825" y2="777.4" stroke="#868686" stroke-width="1"/>
<line x1="252.30384615384614" y1="773.4" x2="252.30384615384614" y2="777.4" stroke="#868686" stroke-width="1"/>
<line x1="262.7826923076923" y1="773.4" x2="262.7826923076923" y2="777.4" stroke="#868686" stroke-width="1"/>
<line x1="273.2615384615384" y1="773.4" x2="273.2615384615384" y2="777.4" stroke="#868686" stroke-width="1"/>
<line x1="283.7403846153846" y1="773.4" x2="283.7403846153846" y2="777.4" stroke="#868686" stroke-width="1"/>
<line x1="294.21923076923076" y1="773.4" x2="294.21923076923076" y2="777.4" stroke="#868686" stroke-width="1"/>
<line x1="304.6980769230769" y1="773.4" x2="304.6980769230769" y2="777.4" stroke="#868686" stroke-width="1"/>
<line x1="315.176923076923" y1="773.4" x2="315.176923076923" y2="777.4" stroke="#868686" stroke-width="1"/>
<line x1="325.65576923076924" y1="773.4" x2="325.65576923076924" y2="777.4" stroke="#868686" stroke-width="1"/>
<line x1="336.13461538461536" y1="773.4" x2="336.13461538461536" y2="777.4" stroke="#868686" stroke-width="1"/>
<line x1="346.6134615384615" y1="773.4" x2="346.6134615384615" y2="777.4" stroke="#868686" stroke-width="1"/>
<line x1="357.09230769230766" y1="773.4" x2="357.09230769230766" y2="777.4" stroke="#868686" stroke-width="1"/>
<line x1="367.57115384615383" y1="773.4" x2="367.57115384615383" y2="777.4" stroke="#868686" stroke-width="1"/>
<line x1="378.04999999999995" y1="773.4" x2="378.04999999999995" y2="777.4" stroke="#868686" stroke-width="1"/>
<line x1="388.5288461538461" y1="773.4" x2="388.5288461538461" y2="777.4" stroke="#868686" stroke-width="1"/>
<line x1="399.0076923076923" y1="773.4" x2="399.0076923076923" y2="777.4" stroke="#868686" stroke-width="1"/>
<line x1="409.48653846153843" y1="773.4" x2="409.48653846153843" y2="777.4" stroke="#868686" stroke-width="1"/>
<line x1="419.96538461538455" y1="773.4" x2="419.96538461538455" y2="777.4" stroke="#868686" stroke-width="1"/>
<line x1="430.44423076923067" y1="773.4" x2="430.44423076923067" y2="777.4" stroke="#868686" stroke-width="1"/>
<line x1="440.9230769230769" y1="773.4" x2="440.9230769230769" y2="777.4" stroke="#868686" stroke-width="1"/>
<line x1="451.401923076923" y1="773.4" x2="451.401923076923" y2="777.4" stroke="#868686" stroke-width="1"/>
<line x1="461.88076923076915" y1="773.4" x2="461.88076923076915" y2="777.4" stroke="#868686" stroke-width="1"/>
<line x1="472.3596153846154" y1="773.4" x2="472.3596153846154" y2="777.4" stroke="#868686" stroke-width="1"/>
<line x1="482.8384615384615" y1="773.4" x2="482.8384615384615" y2="777.4" stroke="#868686" stroke-width="1"/>
<line x1="493.3173076923076" y1="773.4" x2="493.3173076923076" y2="777.4" stroke="#868686" stroke-width="1"/>
<line x1="503.79615384615374" y1="773.4" x2="503.79615384615374" y2="777.4" stroke="#868686" stroke-width="1"/>
<line x1="514.275" y1="773.4" x2="514.275" y2="777.4" stroke="#868686" stroke-width="1"/>
<line x1="524.7538461538461" y1="773.4" x2="524.7538461538461" y2="777.4" stroke="#868686" stroke-width="1"/>
<line x1="535.2326923076922" y1="773.4" x2="535.2326923076922" y2="777.4" stroke="#868686" stroke-width="1"/>
<line x1="545.7115384615385" y1="773.4" x2="545.7115384615385" y2="777.4" stroke="#868686" stroke-width="1"/>
<line x1="556.1903846153846" y1="773.4" x2="556.1903846153846" y2="777.4" stroke="#868686" stroke-width="1"/>
<line x1="566.6692307692307" y1="773.4" x2="566.6692307692307" y2="777.4" stroke="#868686" stroke-width="1"/>
<line x1="577.1480769230768" y1="773.4" x2="577.1480769230768" y2="777.4" stroke="#868686" stroke-width="1"/>
<line x1="587.626923076923" y1="773.4" x2="587.626923076923" y2="777.4" stroke="#868686" stroke-width="1"/>
<line x1="598.1057692307692" y1="773.4" x2="598.1057692307692" y2="777.4" stroke="#868686" stroke-width="1"/>
<line x1="608.5846153846153" y1="773.4" x2="608.5846153846153" y2="777.4" stroke="#868686" stroke-width="1"/>
<line x1="619.0634615384615" y1="773.4" x2="619.0634615384615" y2="777.4" stroke="#868686" stroke-width="1"/>
<line x1="629.5423076923076" y1="773.4" x2="629.5423076923076" y2="777.4" stroke="#868686" stroke-width="1"/>
<line x1="640.0211538461538" y1="773.4" x2="640.0211538461538" y2="777.4" stroke="#868686" stroke-width="1"/>
<line x1="650.5" y1="773.4" x2="650.5" y2="777.4" stroke="#868686" stroke-width="1"/>
<text x="110.8" y="792.0" font-size="12.2" text-anchor="middle" fill="#1a1a1a" stroke="#1a1a1a" stroke-width="0.3" class="lat" >1</text>
<text x="131.8" y="792.0" font-size="12.2" text-anchor="middle" fill="#1a1a1a" stroke="#1a1a1a" stroke-width="0.3" class="lat" >3</text>
<text x="152.8" y="792.0" font-size="12.2" text-anchor="middle" fill="#1a1a1a" stroke="#1a1a1a" stroke-width="0.3" class="lat" >5</text>
<text x="173.7" y="792.0" font-size="12.2" text-anchor="middle" fill="#1a1a1a" stroke="#1a1a1a" stroke-width="0.3" class="lat" >7</text>
<text x="194.7" y="792.0" font-size="12.2" text-anchor="middle" fill="#1a1a1a" stroke="#1a1a1a" stroke-width="0.3" class="lat" >9</text>
<text x="215.6" y="792.0" font-size="12.2" text-anchor="middle" fill="#1a1a1a" stroke="#1a1a1a" stroke-width="0.3" class="lat" >11</text>
<text x="236.6" y="792.0" font-size="12.2" text-anchor="middle" fill="#1a1a1a" stroke="#1a1a1a" stroke-width="0.3" class="lat" >13</text>
<text x="257.5" y="792.0" font-size="12.2" text-anchor="middle" fill="#1a1a1a" stroke="#1a1a1a" stroke-width="0.3" class="lat" >15</text>
<text x="278.5" y="792.0" font-size="12.2" text-anchor="middle" fill="#1a1a1a" stroke="#1a1a1a" stroke-width="0.3" class="lat" >17</text>
<text x="299.5" y="792.0" font-size="12.2" text-anchor="middle" fill="#1a1a1a" stroke="#1a1a1a" stroke-width="0.3" class="lat" >19</text>
<text x="320.4" y="792.0" font-size="12.2" text-anchor="middle" fill="#1a1a1a" stroke="#1a1a1a" stroke-width="0.3" class="lat" >21</text>
<text x="341.4" y="792.0" font-size="12.2" text-anchor="middle" fill="#1a1a1a" stroke="#1a1a1a" stroke-width="0.3" class="lat" >23</text>
<text x="362.3" y="792.0" font-size="12.2" text-anchor="middle" fill="#1a1a1a" stroke="#1a1a1a" stroke-width="0.3" class="lat" >25</text>
<text x="383.3" y="792.0" font-size="12.2" text-anchor="middle" fill="#1a1a1a" stroke="#1a1a1a" stroke-width="0.3" class="lat" >27</text>
<text x="404.2" y="792.0" font-size="12.2" text-anchor="middle" fill="#1a1a1a" stroke="#1a1a1a" stroke-width="0.3" class="lat" >29</text>
<text x="425.2" y="792.0" font-size="12.2" text-anchor="middle" fill="#1a1a1a" stroke="#1a1a1a" stroke-width="0.3" class="lat" >31</text>
<text x="446.2" y="792.0" font-size="12.2" text-anchor="middle" fill="#1a1a1a" stroke="#1a1a1a" stroke-width="0.3" class="lat" >33</text>
<text x="467.1" y="792.0" font-size="12.2" text-anchor="middle" fill="#1a1a1a" stroke="#1a1a1a" stroke-width="0.3" class="lat" >35</text>
<text x="488.1" y="792.0" font-size="12.2" text-anchor="middle" fill="#1a1a1a" stroke="#1a1a1a" stroke-width="0.3" class="lat" >37</text>
<text x="509.0" y="792.0" font-size="12.2" text-anchor="middle" fill="#1a1a1a" stroke="#1a1a1a" stroke-width="0.3" class="lat" >39</text>
<text x="530.0" y="792.0" font-size="12.2" text-anchor="middle" fill="#1a1a1a" stroke="#1a1a1a" stroke-width="0.3" class="lat" >41</text>
<text x="551.0" y="792.0" font-size="12.2" text-anchor="middle" fill="#1a1a1a" stroke="#1a1a1a" stroke-width="0.3" class="lat" >43</text>
<text x="571.9" y="792.0" font-size="12.2" text-anchor="middle" fill="#1a1a1a" stroke="#1a1a1a" stroke-width="0.3" class="lat" >45</text>
<text x="592.9" y="792.0" font-size="12.2" text-anchor="middle" fill="#1a1a1a" stroke="#1a1a1a" stroke-width="0.3" class="lat" >47</text>
<text x="613.8" y="792.0" font-size="12.2" text-anchor="middle" fill="#1a1a1a" stroke="#1a1a1a" stroke-width="0.3" class="lat" >49</text>
<text x="634.8" y="792.0" font-size="12.2" text-anchor="middle" fill="#1a1a1a" stroke="#1a1a1a" stroke-width="0.3" class="lat" >51</text>
<polygon points="111.2,684.3 121.7,685.3 132.2,685.5 142.7,688.9 153.2,687.4 163.7,688.9 174.2,690.6 184.7,690.2 195.2,689.3 205.7,686.4 216.2,684.2 226.7,682.6 237.2,681.4 247.7,681.1 258.2,682.0 268.7,684.2 279.2,685.2 289.7,685.8 300.2,685.8 310.7,686.4 321.2,687.4 331.7,689.6 342.2,692.1 352.7,693.7 363.2,695.3 373.7,697.8 384.2,700.0 394.7,701.0 415.7,703.0 436.7,702.2 457.7,699.7 478.7,696.8 499.7,692.7 520.7,688.6 541.7,689.8 562.7,688.6 583.7,692.7 604.7,696.8 615.2,699.7 625.7,698.9 646.7,698.9 646.7,761.6 625.7,760.0 604.7,757.5 583.7,754.6 562.7,752.5 541.7,751.7 520.7,750.5 499.7,752.5 478.7,754.6 457.7,756.7 436.7,757.5 427.0,760.0 415.7,757.5 394.7,753.8 384.2,752.2 373.7,749.7 363.2,747.5 352.7,745.3 342.2,743.4 331.7,741.2 321.2,738.9 310.7,737.0 300.2,736.4 289.7,734.8 279.2,734.8 268.7,734.8 258.2,735.8 247.7,737.0 237.2,739.6 226.7,743.4 216.2,745.9 205.7,747.5 195.2,749.2 184.7,748.6 174.2,746.5 163.7,743.3 153.2,735.9 142.7,737.4 132.2,738.0 121.7,737.4 111.2,737.4" fill="#bfbfbf" stroke="none"/>
<polyline points="111.2,738.7 121.7,741.6 132.2,744.4 142.7,747.1 153.2,751.3 163.7,754.9 174.2,757.6 184.7,759.5 195.2,760.2 205.7,757.9 216.2,755.4 226.7,756.0 237.2,753.8 247.7,752.9 258.2,752.9 268.7,751.6 279.2,749.7 289.7,750.6 300.2,754.8 310.7,756.0" fill="none" stroke="#2aa9bd" stroke-width="2.2" stroke-linejoin="round" stroke-linecap="round" />
<polyline points="111.2,712.7 121.7,714.8 132.2,718.4 142.7,720.1 153.2,719.3 163.7,720.5 174.2,721.8 184.7,720.5 195.2,720.6 205.7,720.0 216.2,719.0 226.7,719.0 237.2,715.9 247.7,713.6 258.2,712.7 268.7,711.1 279.2,709.8 289.7,709.5 300.2,709.5 310.7,711.7 321.2,713.6 331.7,714.9 342.2,716.8 352.7,719.0 363.2,720.6 373.7,722.2 384.2,723.1 394.7,723.8 415.7,724.9 436.7,725.7 457.7,727.0 478.7,724.9 499.7,723.7 520.7,720.4 541.7,719.5 551.0,720.4 562.7,718.3 583.7,720.4 604.7,721.2 614.9,722.4 625.7,721.6 646.7,722.8" fill="none" stroke="#66429a" stroke-width="2.2" stroke-linejoin="round" stroke-linecap="round" />
<polyline points="111.2,696.9 121.7,700.1 132.2,707.9 142.7,711.7 153.2,714.2 163.7,715.5 174.2,721.8 184.7,717.0 195.2,715.9 205.7,714.9 216.2,715.9 226.7,719.0 237.2,718.1 247.7,719.0 258.2,719.0 268.7,721.2 279.2,719.0 289.7,719.0 300.2,720.0 310.7,720.6 321.2,722.2 331.7,720.6 342.2,720.6 352.7,724.4 363.2,727.6 373.7,730.1 384.2,730.7 394.7,733.9 402.4,735.2 415.7,738.1 436.7,739.3 457.7,740.2 468.2,739.4 478.7,736.0 489.0,737.2 499.7,740.2 509.7,739.4 520.7,737.3 530.6,741.0 541.7,746.4 551.0,751.3 562.7,752.5 583.7,752.5 604.7,749.2 614.9,746.4 625.7,743.5 636.0,740.2 646.7,738.9" fill="none" stroke="#cc2a35" stroke-width="2.2" stroke-linejoin="round" stroke-linecap="round" />
<text x="306" y="824.3" font-size="13.5" class="cjk" font-weight="500" fill="#595959" letter-spacing="2.9">国内沥青厂社库</text>
<text x="110.4" y="846.5" font-size="12.5" text-anchor="end" fill="#595959" stroke="#595959" stroke-width="0.1" class="lat" >150.<tspan dx="1.5">00</tspan></text>
<text x="110.4" y="890.8" font-size="12.5" text-anchor="end" fill="#595959" stroke="#595959" stroke-width="0.1" class="lat" >100.<tspan dx="1.5">00</tspan></text>
<text x="110.4" y="935.1" font-size="12.5" text-anchor="end" fill="#595959" stroke="#595959" stroke-width="0.1" class="lat" >50.<tspan dx="1.5">00</tspan></text>
<text x="110.4" y="978.3" font-size="12.5" text-anchor="end" fill="#595959" stroke="#595959" stroke-width="0.1" class="lat" >0.<tspan dx="1.5">00</tspan></text>
<line x1="127.5" y1="974.2" x2="652.4" y2="974.2" stroke="#d9d9d9" stroke-width="1"/>
<text x="128" y="990.5" font-size="11.3" text-anchor="middle" fill="#595959" stroke="#595959" stroke-width="0.1" class="lat" >2018-06-07</text>
<text x="260.7" y="990.5" font-size="11.3" text-anchor="middle" fill="#595959" stroke="#595959" stroke-width="0.1" class="lat" >2019-06-07</text>
<text x="394" y="990.5" font-size="11.3" text-anchor="middle" fill="#595959" stroke="#595959" stroke-width="0.1" class="lat" >2020-06-07</text>
<text x="527.4" y="990.5" font-size="11.3" text-anchor="middle" fill="#595959" stroke="#595959" stroke-width="0.1" class="lat" >2021-06-07</text>
<line x1="282.3" y1="1008.6" x2="302.4" y2="1008.6" stroke="#5b9bd5" stroke-width="2.2"/>
<text x="304.9" y="1013" font-size="12" class="cjks" fill="#595959" letter-spacing="2.4">炼厂库存</text>
<line x1="369.6" y1="1008.6" x2="389.7" y2="1008.6" stroke="#a0501e" stroke-width="2.2"/>
<text x="391.5" y="1013" font-size="12" class="cjks" fill="#595959" letter-spacing="2.4">社会库存</text>
<polyline points="129.9,929.6 132.7,926.0 135.4,923.9 137.2,917.9 138.1,913.4 139.9,917.9 141.7,916.1 143.5,914.3 146.2,913.4" fill="none" stroke="#5b9bd5" stroke-width="2.2" stroke-linejoin="round" stroke-linecap="round" />
<polyline points="148.9,920.6 152.5,921.0 155.2,922.4 158.0,929.6 160.7,934.2 163.4,936.9 166.1,935.1 170.6,934.2 174.2,933.3 177.8,930.5 181.4,926.0 184.2,925.1 186.9,923.3 189.6,921.5 192.3,925.1 195.0,928.7 198.6,927.8 201.3,931.4 204.0,936.0 206.8,936.9 209.5,939.6 212.2,945.9 214.9,946.8 218.5,941.4 222.1,943.2 225.7,945.9 228.4,944.1 230.2,937.8 233.9,936.9 236.6,935.1 237.7,927.8 240.4,922.4 244.0,917.9 246.7,916.1 249.5,917.9 253.1,912.5 256.7,910.7 259.4,911.6 262.1,907.0 264.8,903.4 266.6,901.6 268.4,904.3 271.1,908.0 273.9,911.6 276.6,917.0 280.2,920.6 283.8,921.5 286.5,917.9 289.2,919.7 291.9,923.3 295.5,924.2 299.2,927.8 301.9,930.5 304.6,927.8 307.3,924.2 310.0,919.7 313.6,918.8 316.3,917.0 319.0,913.4 321.8,914.3 324.5,918.8 327.2,920.6 329.9,926.9 332.6,932.4 336.2,933.3 338.9,933.3 340.7,936.0 343.4,934.7 347.1,931.4 349.8,917.0 351.6,914.3 353.6,913.3 356.3,917.8 359.0,919.6 361.7,912.4 365.4,907.0 368.1,908.8 371.7,913.3 375.3,917.8 378.9,920.5 383.4,920.5 386.1,920.5 388.9,923.3 391.6,923.3 394.3,924.2 397.9,921.5 400.6,920.5 404.2,922.4 407.8,916.0 410.5,913.3 413.3,917.8 416.9,915.1 420.5,912.4 424.1,909.7 427.7,905.2 431.3,901.6 434.0,904.3 436.8,907.9 440.4,910.6 444.0,912.4 447.6,914.2 451.2,911.5 454.8,909.7 458.4,912.4 461.1,915.1 463.9,917.8 467.5,921.5 470.4,918.7 473.1,910.5 475.8,909.6 478.6,910.5 480.4,905.1 483.1,903.3 485.8,899.7 488.1,895.2 490.3,898.8 493.9,897.0 497.5,895.2 501.1,894.3 503.9,888.9 505.7,881.6 509.3,882.5 512.9,880.7 516.5,880.7 519.2,883.4 522.8,876.2 526.4,875.3 529.2,874.4 531.9,877.1 534.6,873.5 537.3,871.7 540.9,869.9 543.6,866.3 546.3,868.1 550.0,867.2 553.6,865.9 556.3,867.2 559.0,871.7 562.6,872.6 566.2,874.4 569.8,876.2 573.4,874.4 576.2,875.3 578.0,872.6 579.1,878.6 580.6,886.1 582.8,892.9 585.8,893.7 588.8,895.9 592.6,897.9 595.6,901.2 598.6,904.2 601.7,907.2 603.9,906.5 606.2,905.7 609.2,907.2 612.2,902.0 615.2,896.7 617.5,892.9 620.5,890.7 623.5,886.9 626.5,888.4 628.8,888.4 631.0,885.4 633.3,882.4 636.3,884.6 639.3,883.9 641.6,882.4 643.8,887.7 646.1,896.7 648.3,898.2 651.3,899.7" fill="none" stroke="#5b9bd5" stroke-width="2.2" stroke-linejoin="round" stroke-linecap="round" />
<polyline points="127.2,889.9 130.8,886.3" fill="none" stroke="#a0501e" stroke-width="2.2" stroke-linejoin="round" stroke-linecap="round" />
<polyline points="146.2,898.0 149.8,898.9 153.4,897.5 156.1,900.7 158.9,905.2 162.5,909.8 165.2,914.3 167.0,917.9 169.7,917.0 173.3,921.5 176.0,925.1 177.8,929.6 180.5,932.4 183.3,933.3 186.9,936.9 189.6,941.4 192.3,946.8 195.9,952.2 199.5,954.9 202.2,953.1 204.9,954.0 208.6,951.3 212.2,949.5 214.9,947.7 217.6,942.3 220.3,935.1 223.9,924.2 226.6,918.8 228.4,915.2 230.2,908.0 233.0,907.0 238.6,907.0 241.3,903.4 244.0,899.8 246.7,897.1 251.3,896.2 254.9,897.1 258.5,897.1 261.2,900.7 263.9,898.9 267.5,898.0 271.1,894.4 274.8,893.1 279.3,893.5 282.0,895.3 284.7,901.6 289.2,902.5 291.0,907.0 292.8,913.4 295.5,916.1 298.3,918.8 301.0,922.4 303.7,923.3 307.3,922.4 309.1,929.6 312.7,933.3 316.3,936.9 319.0,939.6 321.8,942.3 324.5,945.9 327.2,950.4 329.9,953.1 332.6,950.4 335.3,948.6 338.0,949.5 340.7,945.9 344.3,943.2 348.0,941.4 350.0,939.5 352.7,937.7 355.4,930.5 358.1,921.5 360.8,914.2 363.6,908.8 366.3,903.4 369.9,898.0 374.4,898.0 378.0,897.0 381.6,897.0 386.1,896.7 391.6,896.1 395.2,894.0 398.8,895.2 402.4,897.0 406.0,895.2 409.6,895.6 412.4,895.2 414.2,898.0 416.9,897.0 422.3,897.6 425.9,898.9 429.5,903.4 433.1,906.1 436.8,908.8 440.4,907.9 444.0,907.9 446.7,909.7 449.4,914.2 452.1,917.8 454.8,919.6 458.4,920.5 462.1,922.4 465.0,923.2 472.2,923.2 477.7,923.2 481.3,920.5 485.8,916.0 490.3,912.4 494.8,907.8 499.3,905.1 503.9,902.4 508.4,900.2 513.8,898.8 519.2,896.6 524.6,897.0 528.3,896.1 531.9,894.3 535.5,893.4 539.1,891.6 542.7,893.0 546.3,890.7 550.0,891.2 553.6,891.9 557.2,893.0 559.9,896.1 562.6,895.2 564.0,896.7 567.0,899.7 570.0,903.5 573.0,905.7 576.0,907.2 579.1,908.7 581.3,911.7 583.6,917.0 586.6,923.8 589.6,929.8 592.6,933.6 595.6,936.6 598.6,937.3 601.7,936.6 604.7,936.6 607.7,935.1 610.7,932.8 613.7,931.3 616.7,927.6 619.7,923.8 622.7,921.5 625.7,918.5 628.8,914.8 631.8,913.3 634.8,911.0 637.8,910.2 640.8,909.5 643.8,910.0 647.6,910.5 651.3,911.0" fill="none" stroke="#a0501e" stroke-width="2.2" stroke-linejoin="round" stroke-linecap="round" />
</svg>
</body></html>
